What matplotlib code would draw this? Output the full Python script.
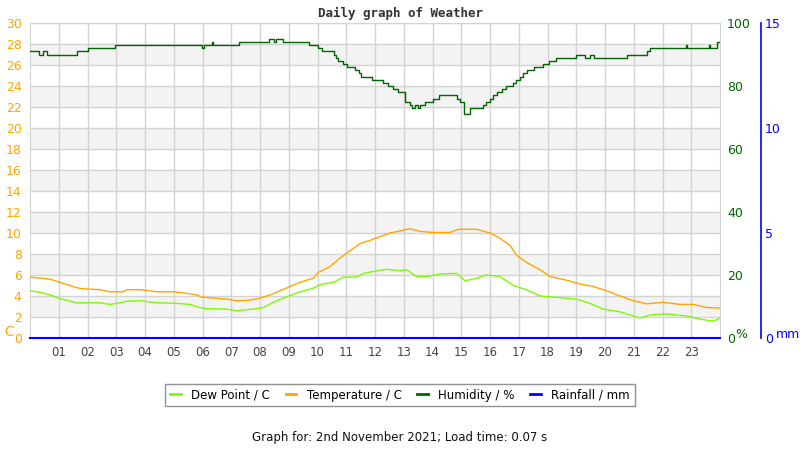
import matplotlib
matplotlib.use("Agg")
import matplotlib.pyplot as plt

# hours of day and readings
hum_hours = [0.0, 0.30, 0.45, 0.60, 1.62, 2.00, 2.96, 5.97, 6.05, 6.34, 6.38, 7.27, 8.33, 8.49, 8.55,
             8.80, 9.72, 10.03, 10.17, 10.59, 10.65, 10.72, 10.90, 11.01, 11.30, 11.46, 11.51, 11.88,
             12.27, 12.46, 12.64, 12.81, 13.04, 13.20, 13.30, 13.40, 13.50, 13.58, 13.75, 14.00, 14.24,
             14.84, 14.95, 15.11, 15.30, 15.74, 15.86, 16.00, 16.12, 16.26, 16.41, 16.56, 16.81, 16.90,
             17.04, 17.15, 17.27, 17.52, 17.86, 18.06, 18.30, 18.98, 19.30, 19.48, 19.62, 20.75, 21.47,
             21.55, 22.80, 22.85, 23.60, 23.66, 23.90, 24.0]
humidity = [91, 90, 91, 90, 91, 92, 93, 92, 93, 94, 93, 94, 95, 94, 95,
            94, 93, 92, 91, 90, 89, 88, 87, 86, 85, 84, 83, 82,
            81, 80, 79, 78, 75, 74, 73, 74, 73, 74, 75, 76, 77,
            76, 75, 71, 73, 74, 75, 76, 77, 78, 79, 80, 81, 82,
            83, 84, 85, 86, 87, 88, 89, 90, 89, 90, 89, 90, 91,
            92, 93, 92, 93, 92, 94, 94]

temp_hours = [0.0, 0.35, 0.70, 0.93, 1.27, 1.62, 1.80, 2.43, 2.78, 3.25, 3.36, 3.83, 4.41, 4.99, 5.45,
              5.80, 5.97, 6.38, 6.84, 7.19, 7.65, 8.00, 8.35, 8.70, 9.04, 9.39, 9.86, 10.03, 10.43,
              10.78, 11.13, 11.48, 11.83, 12.17, 12.52, 12.87, 13.22, 13.57, 14.03, 14.61, 14.90,
              15.54, 16.00, 16.35, 16.70, 16.93, 17.27, 17.74, 18.09, 18.67, 19.13, 19.59, 20.06,
              20.52, 20.99, 21.45, 22.03, 22.61, 23.07, 23.54, 24.0]
temperature = [5.8, 5.7, 5.6, 5.4, 5.1, 4.8, 4.7, 4.6, 4.4, 4.4, 4.6, 4.6, 4.4, 4.4, 4.25,
               4.1, 3.9, 3.8, 3.7, 3.55, 3.6, 3.8, 4.1, 4.5, 4.9, 5.3, 5.7, 6.25, 6.8,
               7.6, 8.3, 9.0, 9.3, 9.65, 10.0, 10.2, 10.4, 10.15, 10.05, 10.05, 10.35,
               10.35, 10.0, 9.5, 8.8, 7.85, 7.2, 6.5, 5.85, 5.5, 5.15, 4.9, 4.5,
               4.0, 3.55, 3.25, 3.4, 3.2, 3.2, 2.9, 2.85]

dew_hours = [0.0, 0.35, 0.70, 0.99, 1.27, 1.62, 1.97, 2.43, 2.78, 3.13, 3.36, 3.83, 4.41, 5.10, 5.57,
             5.91, 6.14, 6.84, 7.19, 7.77, 8.12, 8.46, 8.81, 9.28, 9.86, 10.09, 10.55, 10.90, 11.36,
             11.60, 12.06, 12.41, 12.87, 13.10, 13.45, 13.80, 14.26, 14.84, 15.13, 15.54, 15.88,
             16.35, 16.81, 17.27, 17.74, 18.43, 19.01, 19.48, 19.94, 20.52, 21.22, 21.57, 22.14,
             22.84, 23.30, 23.77, 24.0]
dew_point = [4.5, 4.35, 4.1, 3.8, 3.6, 3.35, 3.35, 3.35, 3.2, 3.35, 3.5, 3.55, 3.35, 3.3, 3.2,
             2.9, 2.8, 2.75, 2.6, 2.75, 2.9, 3.4, 3.8, 4.3, 4.75, 5.1, 5.3, 5.8, 5.8,
             6.15, 6.4, 6.55, 6.4, 6.5, 5.85, 5.85, 6.1, 6.15, 5.45, 5.7, 6.0,
             5.85, 5.0, 4.6, 4.0, 3.85, 3.7, 3.3, 2.75, 2.5, 1.9, 2.2, 2.3,
             2.1, 1.8, 1.6, 1.9]

rain_hours = [0.0, 24.0]
rainfall = [0.0, 0.0]

hour_labels = ["%02d" % h for h in range(1, 24)]

ORANGE = "#FFA500"
DKGREEN = "#006400"
LGREEN = "#7CFC00"
BLUE = "#0000FF"
GRID = "#d3d3d3"

fig = plt.figure(figsize=(8, 4.5), dpi=100)
ax = fig.add_axes([30 / 800, 1 - 338 / 450, 690 / 800, 315 / 450])

ax.set_xlim(0, 24)
ax.set_ylim(0, 30)
for lo in range(2, 30, 4):
    ax.axhspan(lo, lo + 2, color="#f3f3f3", zorder=0, lw=0)
ax.set_yticks(range(0, 31, 2))
ax.set_xticks(range(1, 24))
ax.set_xticklabels(hour_labels)
ax.grid(True, color=GRID, lw=1, zorder=1)
ax.set_axisbelow(True)
ax.tick_params(axis="y", colors=ORANGE, length=0, pad=6, labelsize=9)
ax.tick_params(axis="x", colors="#444444", length=0, pad=6, labelsize=8.5)
for s in ax.spines.values():
    s.set_color(GRID)

ax.plot(dew_hours, dew_point, color=LGREEN, lw=1, zorder=3)
ax.plot(temp_hours, temperature, color=ORANGE, lw=1, zorder=3)

axh = ax.twinx()
axh.set_ylim(0, 100)
axh.set_yticks(range(0, 101, 20))
axh.tick_params(axis="y", colors=DKGREEN, length=0, pad=5, labelsize=9)
for s in axh.spines.values():
    s.set_visible(False)
axh.plot(hum_hours, humidity, color=DKGREEN, lw=1, drawstyle="steps-post")

axr = ax.twinx()
axr.set_ylim(0, 15)
axr.set_yticks([0, 5, 10, 15])
axr.spines["right"].set_position(("axes", 1.0594))
axr.spines["right"].set_color(BLUE)
axr.spines["right"].set_linewidth(1.2)
for k in ["top", "left", "bottom"]:
    axr.spines[k].set_visible(False)
axr.tick_params(axis="y", colors=BLUE, length=0, pad=3, labelsize=9)
axr.plot(rain_hours, rainfall, color=BLUE, lw=1.5, clip_on=False)

fig.text(4 / 800, 1 - 332 / 450, "C", color=ORANGE, fontsize=10, va="center", ha="left")
fig.text(735 / 800, 1 - 334 / 450, "%", color=DKGREEN, fontsize=9, va="center", ha="left")
fig.text(776 / 800, 1 - 335 / 450, "mm", color=BLUE, fontsize=9, va="center", ha="left")

fig.text(0.5, 1 - 13 / 450, "Daily graph of Weather", ha="center", va="center",
         family="DejaVu Sans Mono", weight="bold", fontsize=9, color="#333333")

handles = [
    plt.Line2D([], [], color=LGREEN, lw=2),
    plt.Line2D([], [], color=ORANGE, lw=2),
    plt.Line2D([], [], color=DKGREEN, lw=2),
    plt.Line2D([], [], color=BLUE, lw=2),
]
labels = ["Dew Point / C", "Temperature / C", "Humidity / %", "Rainfall / mm"]
leg = fig.legend(handles, labels, loc="center", bbox_to_anchor=(0.5, 1 - 395 / 450), ncol=4,
                 fontsize=8.5, handlelength=0.9, handletextpad=0.9, columnspacing=1.3,
                 frameon=True, fancybox=False, borderpad=0.4)
leg.get_frame().set_edgecolor("#777777")
leg.get_frame().set_linewidth(1)

fig.text(0.5, 1 - 438 / 450, "Graph for: 2nd November 2021; Load time: 0.07 s",
         ha="center", va="center", fontsize=8.5, color="#111111")

fig.savefig("out.png", dpi=100)
